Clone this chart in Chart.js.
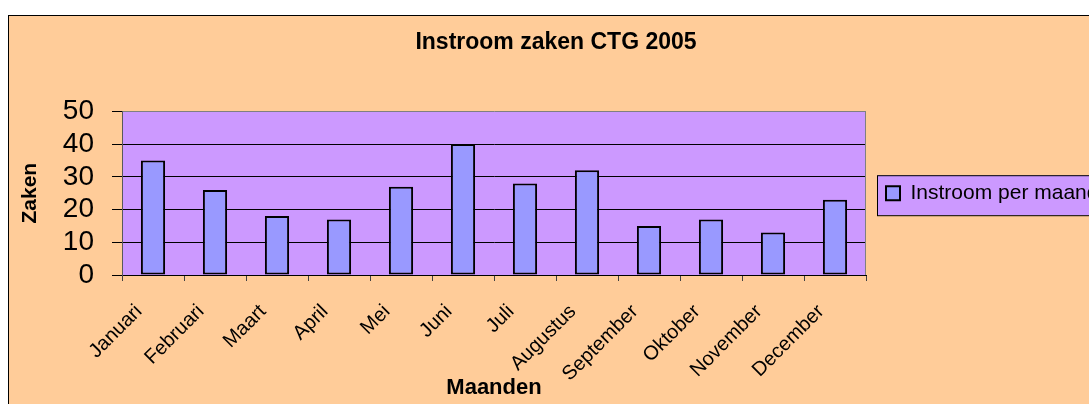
<!DOCTYPE html>
<html>
<head>
<meta charset="utf-8">
<title>Instroom zaken CTG 2005</title>
<script src="https://cdn.jsdelivr.net/npm/chart.js@4"></script>
<style>
  html, body { margin: 0; padding: 0; background: #fff; overflow: hidden; }
  .chart-box {
    position: absolute;
    left: 8px;
    top: 15px;
    width: 1080px;
    height: 388px;
    border-left: 1px solid #000;
    border-top: 1px solid #000;
    background: #ffcc99;
  }
</style>
</head>
<body>
<div class="chart-box"><canvas id="instroom-chart"></canvas></div>
<script>
// Chart data
const chartTitle = "Instroom zaken CTG 2005";
const seriesLabel = "Instroom per maand";
const xTitle = "Maanden";
const yTitle = "Zaken";
const months = [
  "Januari", "Februari", "Maart", "April", "Mei", "Juni",
  "Juli", "Augustus", "September", "Oktober", "November", "December",
];
const instroom = [35, 26, 18, 17, 27, 40, 28, 32, 15, 17, 13, 23];
const yTicks = [0, 10, 20, 30, 40, 50];

const fontFamily = "'Liberation Sans', Arial, sans-serif";

// Plot area background, right border and legend box
const backgroundPlugin = {
  id: "background",
  beforeDraw(chart) {
    const { ctx, chartArea, legend } = chart;
    ctx.save();
    ctx.fillStyle = "#cc99ff";
    ctx.fillRect(chartArea.left, chartArea.top, chartArea.right - chartArea.left, chartArea.bottom - chartArea.top);

    // legend frame
    const cy = legend.top + legend.height / 2;
    ctx.fillRect(legend.left + 11, cy - 18, 300, 40);
    ctx.strokeStyle = "#000";
    ctx.lineWidth = 1;
    ctx.strokeRect(legend.left + 11.5, cy - 17.5, 300, 40);
    ctx.restore();
  },
  afterDatasetsDraw(chart) {
    const { ctx, chartArea } = chart;
    ctx.save();
    ctx.strokeStyle = "#808080";
    ctx.lineWidth = 1;
    ctx.beginPath();
    ctx.moveTo(chartArea.right - 0.5, chartArea.top);
    ctx.lineTo(chartArea.right - 0.5, chartArea.bottom);
    ctx.stroke();
    ctx.restore();
  },
};

document.addEventListener("DOMContentLoaded", function () {
  const ctx = document.getElementById("instroom-chart").getContext("2d");

  new Chart(ctx, {
    type: "bar",
    data: {
      labels: months,
      datasets: [
        {
          label: seriesLabel,
          data: instroom,
          backgroundColor: "#9999ff",
          borderColor: "#000",
          borderWidth: 2,
          borderSkipped: false,
          barPercentage: 0.39,
          categoryPercentage: 1,
        },
      ],
    },
    options: {
      responsive: true,
      maintainAspectRatio: false,
      animation: false,
      layout: {
        padding: { left: 14, right: 0, top: 0, bottom: 0 },
      },
      plugins: {
        title: {
          display: true,
          text: chartTitle,
          color: "#000",
          font: { family: fontFamily, size: 23, weight: "bold" },
          padding: { top: 13, bottom: 54.8 },
        },
        legend: {
          position: "right",
          fullSize: false,
          maxWidth: 223,
          labels: {
            color: "#000",
            font: { family: fontFamily, size: 21 },
            boxWidth: 14,
            boxHeight: 14,
            padding: 20,
          },
        },
        tooltip: { enabled: false },
      },
      scales: {
        x: {
          grid: {
            display: true,
            drawOnChartArea: false,
            offset: true,
            tickLength: 6,
            tickColor: "#404040",
          },
          border: { color: "#000", width: 1 },
          ticks: {
            color: "#000",
            font: { family: fontFamily, size: 20 },
            minRotation: 45,
            maxRotation: 45,
            autoSkip: false,
            padding: 19,
            labelOffset: -14,
          },
          title: {
            display: true,
            text: xTitle,
            color: "#000",
            font: { family: fontFamily, size: 22, weight: "bold" },
            padding: { top: 0, bottom: 3 },
          },
          afterFit(scale) {
            scale.height = 129;
          },
        },
        y: {
          min: yTicks[0],
          max: yTicks[yTicks.length - 1],
          afterBuildTicks(scale) {
            scale.ticks = yTicks.map((v) => ({ value: v }));
          },
          grid: {
            color: (c) => (c.tick && c.tick.value === 50 ? "#808080" : "#000"),
            tickColor: "#000",
            tickLength: 10,
            lineWidth: 1,
          },
          border: { color: "#595959", width: 1 },
          ticks: {
            color: "#000",
            font: { family: fontFamily, size: 28 },
            padding: 18,
            autoSkip: false,
          },
          title: {
            display: true,
            text: yTitle,
            color: "#000",
            font: { family: fontFamily, size: 21, weight: "bold" },
            padding: { top: -5, bottom: 0 },
          },
          afterFit(scale) {
            scale.width = 99;
          },
        },
      },
    },
    plugins: [backgroundPlugin],
  });
});
</script>
</body>
</html>
